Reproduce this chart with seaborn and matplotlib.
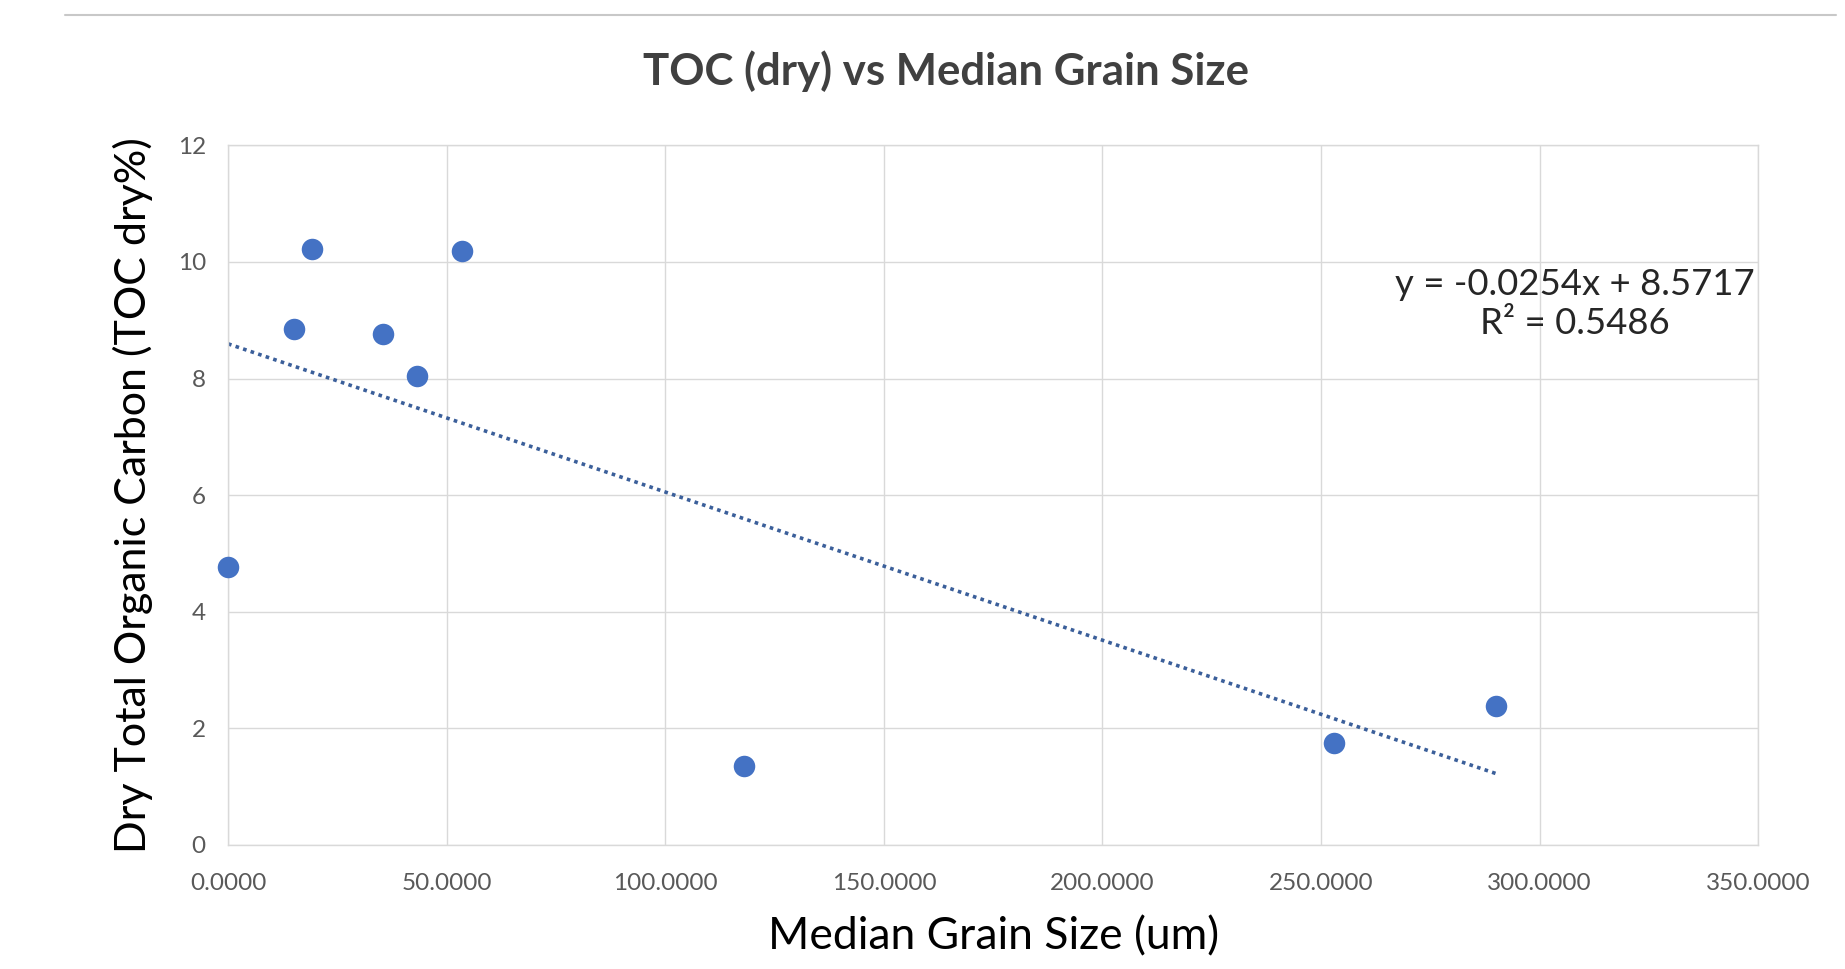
import matplotlib
matplotlib.use("Agg")
import matplotlib.pyplot as plt
import pandas as pd
import seaborn as sns
from matplotlib.lines import Line2D

# values
grain_size_um = [0.0, 15.0, 19.1, 35.5, 43.3, 53.5, 118.0, 253.0, 290.1]
toc_dry_pct = [4.76, 8.85, 10.23, 8.77, 8.05, 10.19, 1.35, 1.75, 2.38]
x_ticks = [0, 50, 100, 150, 200, 250, 300, 350]
y_ticks = [0, 2, 4, 6, 8, 10, 12]
trend_text = "y = -0.0254x + 8.5717\nR² = 0.5486"

sns.set_theme(style="whitegrid", rc={"grid.color": "#d9d9d9", "grid.linewidth": 1.0})
plt.rcParams["font.family"] = ["Lato", "DejaVu Sans"]

BLUE = "#4472c4"
GREY = "#595959"

frame = pd.DataFrame({"grain": grain_size_um, "toc": toc_dry_pct})

fig = plt.figure(figsize=(18.45, 9.69), dpi=100)
ax = fig.add_axes([0.1236, 0.128, 0.8294, 0.722])

sns.regplot(
    data=frame,
    x="grain",
    y="toc",
    scatter=False,
    ci=None,
    truncate=True,
    line_kws={"color": "#3b5f9a", "linestyle": (0, (1, 1.2)), "linewidth": 2.6},
    ax=ax,
)
sns.scatterplot(data=frame, x="grain", y="toc", s=240, color=BLUE, linewidth=0, ax=ax,
                zorder=3, clip_on=False)

ax.set_xlim(0, 350)
ax.set_ylim(0, 12)
ax.set_xticks(x_ticks)
ax.set_yticks(y_ticks)
ax.set_xticklabels([f"{v:.4f}" for v in x_ticks])
ax.set_yticklabels([str(v) for v in y_ticks])
ax.tick_params(axis="both", length=0, labelsize=17.5, labelcolor=GREY)
ax.tick_params(axis="x", pad=20)
ax.tick_params(axis="y", pad=16)
for spine in ax.spines.values():
    spine.set_color("#d9d9d9")
    spine.set_linewidth(1.0)

ax.set_xlabel("Median Grain Size (um)", fontsize=32, color="black", labelpad=16)
ax.set_ylabel("Dry Total Organic Carbon (TOC dry%)", fontsize=31, color="black", labelpad=18)
ax.text(308, 9.28, trend_text, ha="center", va="center", fontsize=26.3, color="#262626", linespacing=1.25)

fig.text(0.513, 0.927, "TOC (dry) vs Median Grain Size", ha="center", va="center",
         fontsize=31.5, fontweight="bold", color="#404040")

# faint chart frame line at the top
fig.add_artist(Line2D([0.035, 0.995], [0.985, 0.985], color="#c8c8c8", linewidth=1.5))

fig.savefig("out.png", dpi=100)
